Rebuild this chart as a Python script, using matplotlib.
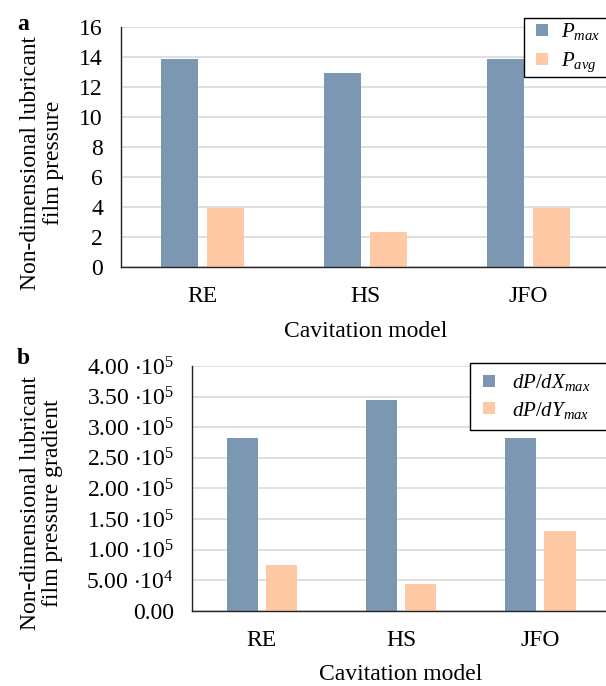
import matplotlib
matplotlib.use('Agg')
import numpy as np
import matplotlib.pyplot as plt
from matplotlib.ticker import FuncFormatter
from matplotlib.patches import Rectangle
from matplotlib.container import BarContainer
from matplotlib.legend_handler import HandlerPatch, update_from_first_child

plt.rcParams['font.family'] = ['Liberation Serif', 'DejaVu Serif']
plt.rcParams['mathtext.fontset'] = 'custom'
plt.rcParams['mathtext.rm'] = 'Liberation Serif'
plt.rcParams['mathtext.it'] = 'Liberation Serif:italic'

models = ['RE', 'HS', 'JFO']

# panel a: film pressure
p_max = [13.9, 12.95, 13.9]
p_avg = [3.95, 2.35, 3.95]
labels_a = [r'$P_{max}$', r'$P_{avg}$']

# panel b: pressure gradient
dpdx_max = [2.82e5, 3.44e5, 2.82e5]
dpdy_max = [7.4e4, 4.4e4, 1.31e5]
labels_b = [r'$dP/dX_{max}$', r'$dP/dY_{max}$']

BLUE = '#7b97b2'
ORANGE = '#ffc9a6'
GRID = '#d9d9d9'
TICK_FS = 17
LABEL_FS = 17
LEG_FS = 15


def sci_fmt(v, pos):
    if v == 0:
        return '0.00'
    exp = int(np.floor(np.log10(abs(v))))
    mant = v / 10 ** exp
    return r'%.2f $\cdot 10^{%d}$' % (mant, exp)


def square_patch(legend, orig_handle, xdescent, ydescent, width, height, fontsize):
    # small square pushed to the right end of the handle box
    size = 12 * 72 / 100
    return Rectangle((width - xdescent - size, (height - size) / 2 - ydescent), size, size)


def draw_panel(ax, s1, s2, labels, width, gap):
    x = np.arange(len(models))
    off = (width + gap) / 2
    ax.bar(x - off, s1, width, color=BLUE, label=labels[0], zorder=3)
    ax.bar(x + off, s2, width, color=ORANGE, label=labels[1], zorder=3)
    ax.set_xlim(-0.5, len(models) - 0.5)
    ax.set_xticks(x)
    ax.set_xticklabels(models)
    ax.grid(axis='y', color=GRID, linewidth=1.2, zorder=0)
    for s in ['top', 'right']:
        ax.spines[s].set_visible(False)
    for s in ['left', 'bottom']:
        ax.spines[s].set_color('#222222')
        ax.spines[s].set_linewidth(1.0)
        ax.spines[s].set_zorder(4)
    ax.tick_params(length=0, labelsize=TICK_FS)
    ax.tick_params(axis='y', pad=13)
    ax.tick_params(axis='x', pad=14)


def add_legend(ax, x, y, w, spacing, bpad, hlen, tpad):
    handler = HandlerPatch(patch_func=square_patch, update_func=update_from_first_child)
    ax.legend(loc='upper left', bbox_to_anchor=(x, y, w, 0), mode='expand',
              borderaxespad=0, fontsize=LEG_FS, frameon=True, fancybox=False,
              edgecolor='black', framealpha=1, handlelength=hlen,
              handletextpad=tpad, borderpad=bpad, labelspacing=spacing,
              handler_map={BarContainer: handler})


fig = plt.figure(figsize=(6.06, 6.86), dpi=100)

ax1 = fig.add_axes([0.1997, 0.6108, 0.807, 0.3498])
draw_panel(ax1, p_max, p_avg, labels_a, 0.227, 0.055)
ax1.set_ylim(0, 16)
ax1.set_yticks(np.arange(0, 17, 2))
ax1.set_ylabel('Non-dimensional lubricant\nfilm pressure', fontsize=LABEL_FS,
               va='center', linespacing=1.1)
ax1.yaxis.set_label_coords(-0.162, 0.433)
ax1.set_xlabel('Cavitation model', fontsize=LABEL_FS, va='center')
ax1.xaxis.set_label_coords(0.5, -0.27)
add_legend(ax1, 0.824, 1.0375, 0.2, 0.4, 0.15, 1.0, 0.62)
fig.text(0.028, 0.965, 'a', fontsize=LABEL_FS, fontweight='bold', va='center')

ax2 = fig.add_axes([0.3168, 0.1098, 0.690, 0.3567])
draw_panel(ax2, dpdx_max, dpdy_max, labels_b, 0.223, 0.058)
ax2.set_ylim(0, 4e5)
ax2.set_yticks(np.arange(0, 4.01e5, 5e4))
ax2.yaxis.set_major_formatter(FuncFormatter(sci_fmt))
ax2.set_ylabel('Non-dimensional lubricant\nfilm pressure gradient', fontsize=LABEL_FS,
               va='center', linespacing=1.1)
ax2.yaxis.set_label_coords(-0.36, 0.44)
ax2.set_xlabel('Cavitation model', fontsize=LABEL_FS, va='center')
ax2.xaxis.set_label_coords(0.5, -0.26)
add_legend(ax2, 0.664, 1.012, 0.4, 0.3, 0.45, 0.75, 0.85)
fig.text(0.028, 0.478, 'b', fontsize=LABEL_FS, fontweight='bold', va='center')

fig.savefig('out.png', dpi=100)
